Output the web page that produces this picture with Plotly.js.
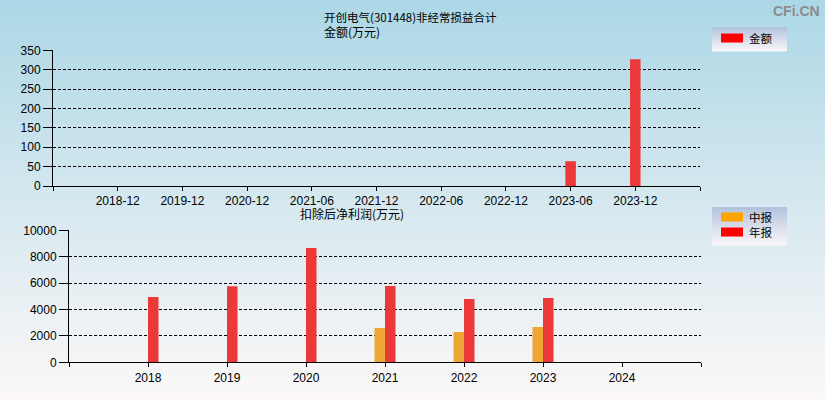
<!DOCTYPE html>
<html>
<head>
<meta charset="utf-8">
<script src="https://cdn.plot.ly/plotly-3.0.1.min.js"></script>
<style>
  html, body { margin: 0; padding: 0; }
  body { width: 825px; height: 400px; background: linear-gradient(to bottom, #acd7e6 0%, #d5e8ef 50%, #fcf8f8 100%); }
  #chart { width: 825px; height: 400px; }
</style>
</head>
<body>
<div id="chart"></div>
<script>
// 非经常损益合计 (万元)
const topCats = ['2018-12', '2019-12', '2020-12', '2021-06', '2021-12', '2022-06', '2022-12', '2023-06', '2023-12'];
const topVals = [null, null, null, null, null, null, null, 64, 327];

// 扣除后净利润 (万元)
const botCats = ['2018', '2019', '2020', '2021', '2022', '2023', '2024'];
const midVals = [null, null, null, 2600, 2300, 2670, null];   // 中报
const yearVals = [4940, 5770, 8660, 5780, 4800, 4870, null];  // 年报

const W = 825, H = 400;
const px = v => v / W;
const py = v => 1 - v / H;

const tickFont = { family: 'Liberation Sans, Arial, sans-serif', size: 12, color: '#000' };
const cjk = 'Noto Sans CJK SC, sans-serif';

function catAxis(cats, domain, anchor) {
  const vals = [-1];
  const text = [''];
  cats.forEach((c, i) => { vals.push(i); text.push(c); });
  vals.push(cats.length); text.push('');
  return {
    domain: domain, anchor: anchor, range: [-1, cats.length],
    tickmode: 'array', tickvals: vals, ticktext: text,
    ticks: 'outside', ticklen: 4, tickcolor: '#000', tickwidth: 1,
    showline: true, linecolor: '#000', linewidth: 1,
    showgrid: false, zeroline: false, tickfont: tickFont, fixedrange: true,
  };
}

function valAxis(domain, anchor, max, step) {
  return {
    domain: domain, anchor: anchor, range: [0, max], dtick: step, tick0: 0,
    tickformat: 'd',
    ticks: 'outside', ticklen: 9, tickcolor: '#000', tickwidth: 1,
    showline: true, linecolor: '#000', linewidth: 1,
    showgrid: true, gridcolor: '#000', gridwidth: 1, griddash: '3px,2px',
    zeroline: false, tickfont: tickFont, fixedrange: true,
  };
}

const idx = arr => arr.map((c, i) => i);

const data = [
  {
    type: 'bar', name: '金额', x: idx(topCats), y: topVals, xaxis: 'x', yaxis: 'y',
    width: 0.162, offset: -0.081, marker: { color: '#ec3838' }, hoverinfo: 'none', showlegend: false,
  },
  {
    type: 'bar', name: '中报', x: idx(botCats), y: midVals, xaxis: 'x2', yaxis: 'y2',
    width: 0.133, offset: -0.133, marker: { color: '#eea735' }, hoverinfo: 'none', showlegend: false,
  },
  {
    type: 'bar', name: '年报', x: idx(botCats), y: yearVals, xaxis: 'x2', yaxis: 'y2',
    width: 0.133, offset: 0, marker: { color: '#ec3838' }, hoverinfo: 'none', showlegend: false,
  },
];

// legend boxes drawn as shapes (gradient bands) + text
const shapes = [];
const annotations = [];

function mix(a, b, t) {
  const c = a.map((v, i) => Math.round(v + (b[i] - v) * t));
  return 'rgb(' + c.join(',') + ')';
}

function legendBox(x0, y0, x1, y1, items) {
  const n = 12;
  const c1 = [180, 196, 222], c2 = [248, 244, 248];
  const h = (y1 - y0) / n;
  for (let i = 0; i < n; i++) {
    shapes.push({
      type: 'rect', xref: 'paper', yref: 'paper', layer: 'below',
      x0: px(x0), x1: px(x1), y0: py(y0 + i * h), y1: py(y0 + (i + 1) * h + 0.5),
      fillcolor: mix(c1, c2, i / (n - 1)), line: { width: 0 },
    });
  }
  items.forEach(it => {
    shapes.push({
      type: 'rect', xref: 'paper', yref: 'paper',
      x0: px(x0 + 9), x1: px(x0 + 31), y0: py(it.y - 4.5), y1: py(it.y + 4.5),
      fillcolor: it.color, line: { width: 0 },
    });
    annotations.push({
      xref: 'paper', yref: 'paper', x: px(x0 + 35), y: py(it.y), xanchor: 'left', yanchor: 'middle',
      text: it.label, showarrow: false, font: { family: cjk, size: 11.5, color: '#000' },
    });
  });
}

legendBox(712, 27, 787, 51, [{ label: '金额', color: '#ff0000', y: 38 }]);
legendBox(712, 207, 787, 245, [
  { label: '中报', color: '#ffa500', y: 217 },
  { label: '年报', color: '#ff0000', y: 232 },
]);

annotations.push({
  xref: 'paper', yref: 'paper', x: px(322), y: py(7), xanchor: 'left', yanchor: 'top', align: 'left',
  text: '开创电气(301448)非经常损益合计<br><span style="font-size:12px">金额(万元)</span>',
  showarrow: false, font: { family: cjk, size: 11.5, color: '#000' },
});
annotations.push({
  xref: 'paper', yref: 'paper', x: px(298), y: py(213), xanchor: 'left', yanchor: 'middle',
  text: '扣除后净利润(万元)', showarrow: false, font: { family: cjk, size: 12, color: '#000' },
});
annotations.push({
  xref: 'paper', yref: 'paper', x: px(822), y: py(11), xanchor: 'right', yanchor: 'middle',
  text: '<b>CFi.CN</b>', showarrow: false,
  font: { family: 'Liberation Sans, Arial, sans-serif', size: 14, color: '#8c8c8c' },
});

const layout = {
  width: W, height: H,
  margin: { l: 0, r: 0, t: 0, b: 0, pad: 0 },
  paper_bgcolor: 'rgba(0,0,0,0)',
  plot_bgcolor: 'rgba(0,0,0,0)',
  barmode: 'overlay',
  showlegend: false,
  xaxis: catAxis(topCats, [px(53), px(700)], 'y'),
  yaxis: valAxis([py(186), py(50.3)], 'x', 350, 50),
  xaxis2: catAxis(botCats, [px(69), px(701)], 'y2'),
  yaxis2: valAxis([py(362.3), py(230.3)], 'x2', 10000, 2000),
  shapes: shapes,
  annotations: annotations,
};

const config = { displayModeBar: false, staticPlot: true };

Plotly.newPlot('chart', data, layout, config);
</script>
</body>
</html>
